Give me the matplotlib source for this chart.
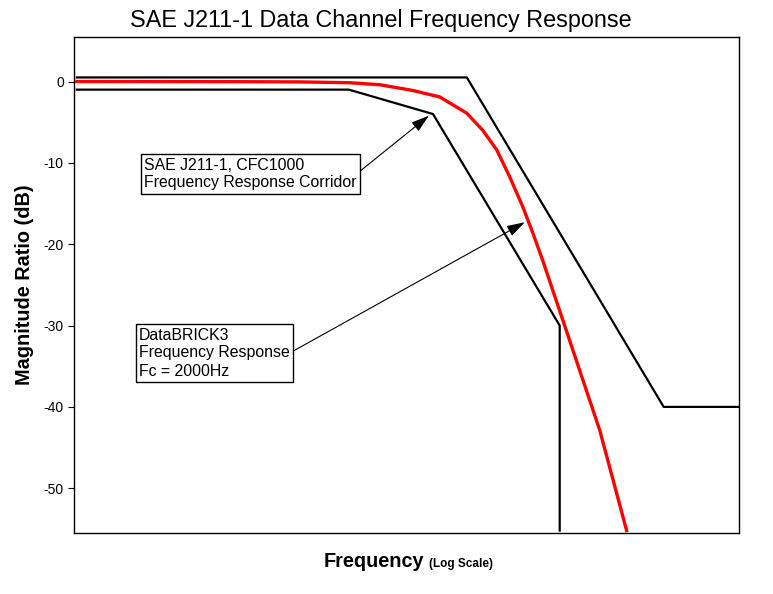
import numpy as np
import matplotlib
matplotlib.use("Agg")
import matplotlib.pyplot as plt

plt.rcParams['font.family'] = ['Liberation Sans', 'DejaVu Sans']
plt.rcParams['axes.unicode_minus'] = False

# CFC1000 corridor (frequency in Hz, magnitude in dB)
upper_freq = [198, 2018, 6515, 10200]
upper_db = [0.5, 0.5, -40, -40]

lower_freq = [198, 1000, 1650, 3508, 3508]
lower_db = [-1, -1, -4, -30, -55.2]

# DataBRICK3 response
resp_freq = [198, 500, 747, 1006, 1203, 1462, 1718, 2018, 2219, 2411,
             2604, 2816, 2988, 3171, 3613, 4454, 5225]
resp_db = [0, -0.02, -0.05, -0.15, -0.4, -1.1, -1.9, -3.9, -6.0, -8.4,
           -11.7, -15.4, -18.6, -22, -30, -42.9, -55.2]

yticks = [0, -10, -20, -30, -40, -50]

fig = plt.figure(figsize=(7.73, 5.94), dpi=100)
ax = fig.add_axes([0.0961, 0.1027, 0.8599, 0.835])

ax.plot(upper_freq, upper_db, color='black', lw=1.6)
ax.plot(lower_freq, lower_db, color='black', lw=1.6)
ax.plot(resp_freq, resp_db, color='red', lw=2.4)

ax.set_xscale('log')
ax.set_xlim(195, 10200)
ax.set_ylim(-55.5, 5.47)
ax.set_xticks([])
ax.xaxis.set_minor_locator(matplotlib.ticker.NullLocator())
ax.set_yticks(yticks)
ax.set_yticklabels([str(t) for t in yticks], fontsize=10)
ax.tick_params(axis='y', direction='out', length=4, width=0.8)
for s in ax.spines.values():
    s.set_linewidth(1.0)

fig.text(381, 594 - 27, "SAE J211-1 Data Channel Frequency Response",
         transform=None, fontsize=16.8, ha='center', va='baseline')
ax.set_ylabel("Magnitude Ratio (dB)", fontsize=14.3, fontweight='bold', labelpad=7)

fig.text(424, 594 - 567, "Frequency", transform=None, fontsize=14.3,
         fontweight='bold', ha='right', va='baseline')
fig.text(429, 594 - 567, "(Log Scale)", transform=None, fontsize=8.5,
         fontweight='bold', ha='left', va='baseline')

arrow = dict(arrowstyle='-|>,head_length=0.55,head_width=0.17', color='black',
             lw=0.8, mutation_scale=20, relpos=(1, 0.5), shrinkA=0, shrinkB=0)
box = dict(boxstyle='square,pad=0.22', fc='white', ec='black', lw=1.0)

ax.annotate("SAE J211-1, CFC1000\nFrequency Response Corridor",
            xy=(1610, -4.2), xytext=(144, 594 - 174), textcoords='figure pixels',
            ha='left', va='center', fontsize=11.4, linespacing=1.25,
            bbox=box, arrowprops=arrow)
ax.annotate("DataBRICK3\nFrequency Response\nFc = 2000Hz",
            xy=(2850, -17.3), xytext=(139, 594 - 353), textcoords='figure pixels',
            ha='left', va='center', fontsize=11.4, linespacing=1.25,
            bbox=box, arrowprops=arrow)

fig.savefig("out.png", dpi=100)
